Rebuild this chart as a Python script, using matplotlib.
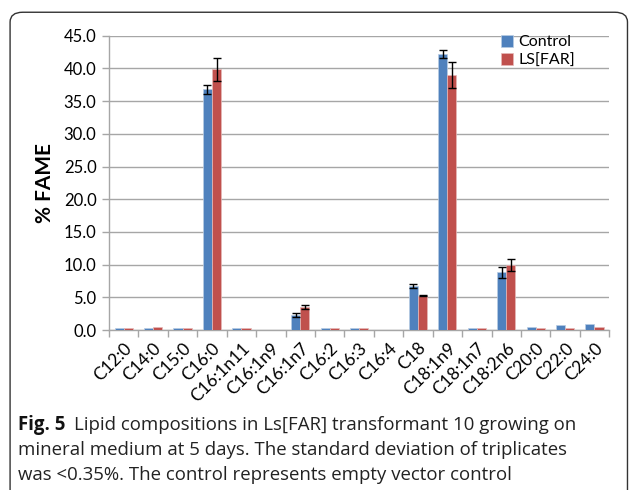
import numpy as np
import matplotlib.pyplot as plt
from matplotlib.patches import FancyBboxPatch

# fatty acid composition, % of total FAME (mean and SD of triplicates)
acids = ['C12:0', 'C14:0', 'C15:0', 'C16:0', 'C16:1n11', 'C16:1n9', 'C16:1n7',
         'C16:2', 'C16:3', 'C16:4', 'C18', 'C18:1n9', 'C18:1n7', 'C18:2n6',
         'C20:0', 'C22:0', 'C24:0']
control = [0.3, 0.3, 0.3, 36.8, 0.3, 0.0, 2.3, 0.3, 0.3, 0.0, 6.8, 42.2, 0.3, 8.8,
           0.5, 0.7, 0.9]
control_sd = [0, 0, 0, 0.65, 0, 0, 0.35, 0, 0, 0, 0.3, 0.6, 0, 0.87, 0, 0, 0]
lsfar = [0.3, 0.5, 0.3, 39.9, 0.3, 0.0, 3.47, 0.3, 0.3, 0.0, 5.25, 39.0, 0.3, 9.9,
         0.3, 0.35, 0.5]
lsfar_sd = [0, 0, 0, 1.75, 0, 0, 0.3, 0, 0, 0, 0.05, 2.05, 0, 0.95, 0, 0, 0]

plt.rcParams['font.family'] = ['Lato', 'DejaVu Sans']

fig = plt.figure(figsize=(6.3, 4.9), dpi=100)
ax = fig.add_axes([0.173, 0.3265, 0.794, 0.6005])

x = np.arange(len(acids))
w = 0.31
for off, vals, sd, col, edge, lab in [(-w / 2, control, control_sd, '#4F81BD', '#b8cce4', 'Control'),
                                      (w / 2, lsfar, lsfar_sd, '#C0504D', '#e6b9b8', 'LS[FAR]')]:
    ax.bar(x + off, vals, w, color=col, edgecolor=edge, linewidth=0.5, label=lab, zorder=3)
    sd = np.array(sd)
    has = sd > 0
    ax.errorbar((x + off)[has], np.array(vals)[has], yerr=sd[has], fmt='none',
                ecolor='black', capsize=3, elinewidth=1, capthick=1, zorder=4)

ax.set_xlim(-0.5, len(acids) - 0.5)
ax.set_ylim(0, 45)
ax.set_yticks(np.arange(0, 46, 5))
ax.set_yticklabels([f'{v:.1f}' for v in np.arange(0, 46, 5)], fontsize=12)
ax.yaxis.grid(True, color='#a6a6a6', linewidth=1, zorder=0)
ax.set_axisbelow(True)

ax.set_xticks(x)
ax.set_xticklabels(acids, rotation=45, ha='right', rotation_mode='anchor', fontsize=12.5)
ax.tick_params(axis='x', length=0, pad=7)
ax.set_xticks(np.arange(-0.5, len(acids), 1), minor=True)
ax.tick_params(axis='x', which='minor', length=5, color='#a6a6a6', width=1)
ax.tick_params(axis='y', length=5, color='#a6a6a6', width=1, pad=4)

for s in ['top', 'right']:
    ax.spines[s].set_visible(False)
for s in ['left', 'bottom']:
    ax.spines[s].set_color('#a6a6a6')
    ax.spines[s].set_linewidth(1)

ax.set_ylabel('% FAME', fontsize=15, fontweight='bold', labelpad=6)

ax.legend(loc='upper left', bbox_to_anchor=(0.765, 1.035), frameon=False, fontsize=11.5,
          handlelength=0.75, handleheight=0.75, handletextpad=0.3, labelspacing=0.25,
          borderaxespad=0.2)

# rounded frame round the figure and caption
frame = FancyBboxPatch((0.016, -0.05), 0.98, 1.025, boxstyle='round,pad=0,rounding_size=0.02',
                       transform=fig.transFigure, fill=False, edgecolor='#333333',
                       linewidth=1, clip_on=False)
fig.patches.append(frame)

cap_font = ['Open Sans', 'DejaVu Sans']
cap_size = 13.4
head = fig.text(0.029, 0.122, 'Fig. 5', fontsize=cap_size, family=cap_font,
                fontweight='bold', va='baseline', color='#111111')
fig.canvas.draw()
bb = head.get_window_extent().transformed(fig.transFigure.inverted())
fig.text(bb.x1 + 0.014, 0.122, 'Lipid compositions in Ls[FAR] transformant 10 growing on',
         fontsize=cap_size, family=cap_font, color='#222222', va='baseline')
fig.text(0.029, 0.071, 'mineral medium at 5 days. The standard deviation of triplicates',
         fontsize=cap_size, family=cap_font, color='#222222', va='baseline')
fig.text(0.029, 0.020, 'was <0.35%. The control represents empty vector control',
         fontsize=cap_size, family=cap_font, color='#222222', va='baseline')

fig.savefig('out.png', dpi=100)
